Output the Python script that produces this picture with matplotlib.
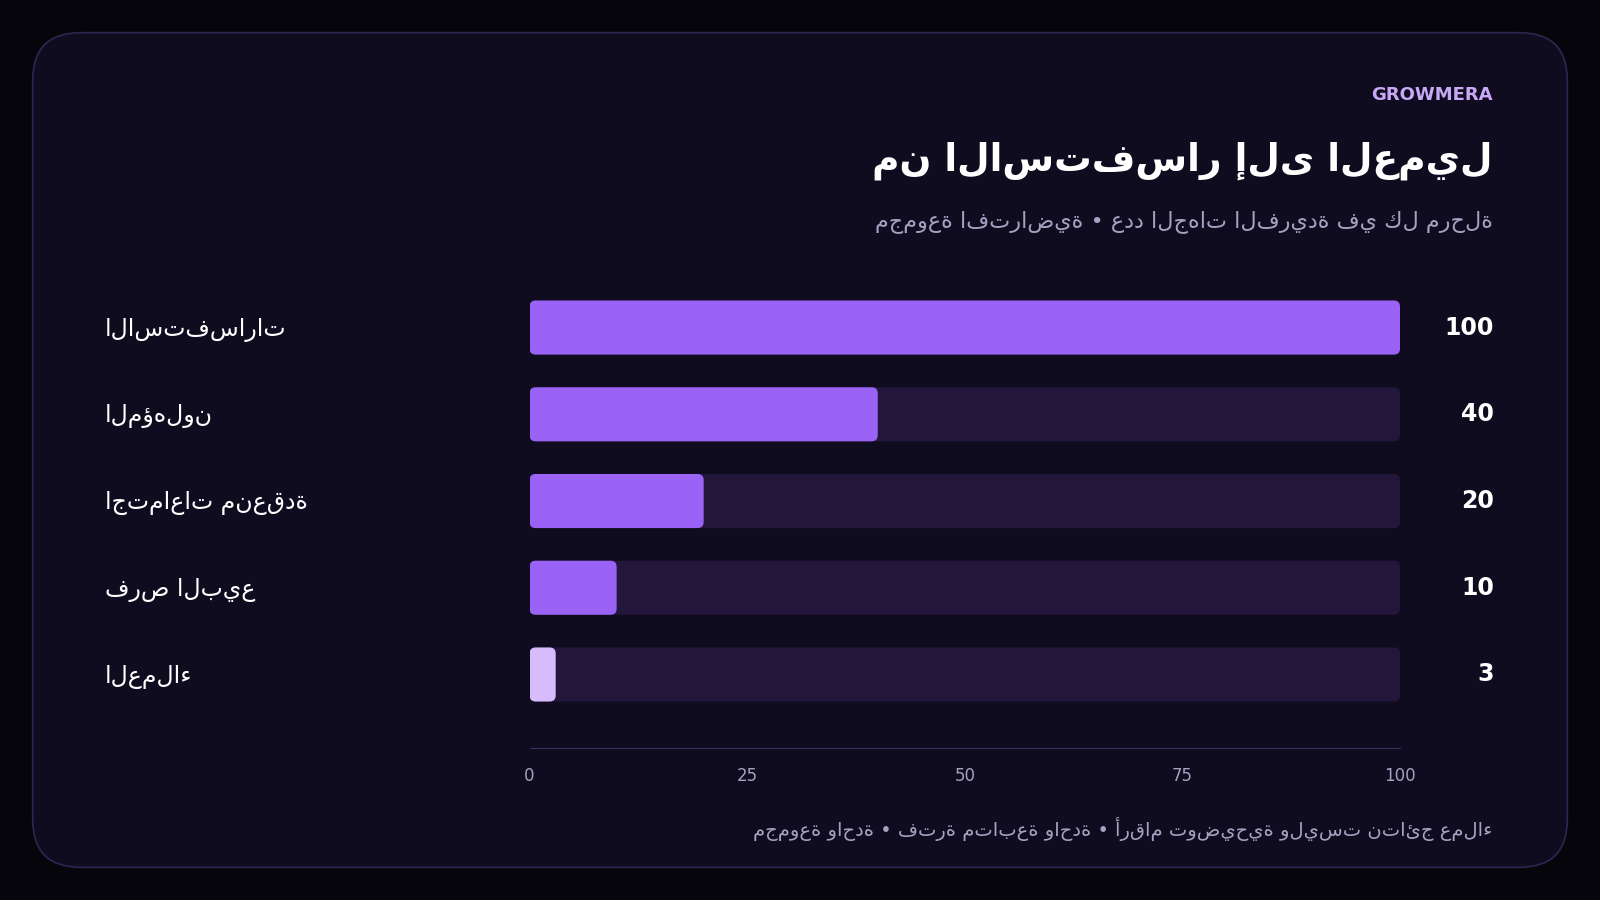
import matplotlib
matplotlib.use("Agg")
import matplotlib.pyplot as plt
from matplotlib.patches import FancyBboxPatch

categories = ["الاستفسارات", "المؤهلون", "اجتماعات منعقدة", "فرص البيع", "العملاء"]
values = [100, 40, 20, 10, 3]
ticks = [0, 25, 50, 75, 100]
title = "من الاستفسار إلى العميل"
subtitle = "مجموعة افتراضية • عدد الجهات الفريدة في كل مرحلة"
footer = "مجموعة واحدة • فترة متابعة واحدة • أرقام توضيحية وليست نتائج عملاء"
brand = "GROWMERA"

W, H = 1568, 882
fig = plt.figure(figsize=(16, 9), dpi=100)
fig.patch.set_facecolor("#07050c")
def fx(x): return x / W
def fy(y): return 1 - y / H

card = FancyBboxPatch((fx(32), fy(850)), fx(1536) - fx(32), fy(32) - fy(850),
                      boxstyle="round,pad=0,rounding_size=0.03", mutation_aspect=16/9,
                      transform=fig.transFigure, facecolor="#100c1f", edgecolor="#2e2650", lw=1.2,
                      zorder=-10)
fig.patches.append(card)

ax = fig.add_axes([fx(519), fy(733), fx(1372) - fx(519), fy(280) - fy(733)])
ax.set_zorder(5)
ax.set_facecolor("none")
ax.set_xlim(0, 100)
ax.set_ylim((733 - 321) / 85, (280 - 321) / 85)
for s in ["top", "right", "left"]:
    ax.spines[s].set_visible(False)
ax.spines["bottom"].set_color("#3a2f5a")
ax.set_yticks([])
ax.set_xticks(ticks)
ax.tick_params(axis="x", length=0, colors="#a8a0c0", labelsize=12, pad=14)

h = 53 / 85
for i, (c, v) in enumerate(zip(categories, values)):
    ax.add_patch(FancyBboxPatch((0, i - h / 2), 100, h, boxstyle="round,pad=0,rounding_size=0.7",
                                mutation_aspect=0.1, facecolor="#22163a", edgecolor="none"))
    col = "#d6bcfa" if i == len(values) - 1 else "#9a62f5"
    ax.add_patch(FancyBboxPatch((0, i - h / 2), v, h, boxstyle="round,pad=0,rounding_size=0.7",
                                mutation_aspect=0.1, facecolor=col, edgecolor="none"))
    fig.text(fx(103), fy(323 + 85 * i), c, color="white", fontsize=17, ha="left", va="center")
    fig.text(fx(1464), fy(321 + 85 * i), str(v), color="white", fontsize=17, fontweight="bold",
             ha="right", va="center")

fig.text(fx(1463), fy(93), brand, color="#c9a8f5", fontsize=13, fontweight="bold", ha="right", va="center")
fig.text(fx(1463), fy(158), title, color="white", fontsize=27, fontweight="bold", ha="right", va="center")
fig.text(fx(1463), fy(217), subtitle, color="#a8a0c0", fontsize=16, ha="right", va="center")
fig.text(fx(1463), fy(812), footer, color="#a8a0c0", fontsize=14, ha="right", va="center")

fig.savefig("out.png", dpi=100, facecolor=fig.get_facecolor())
